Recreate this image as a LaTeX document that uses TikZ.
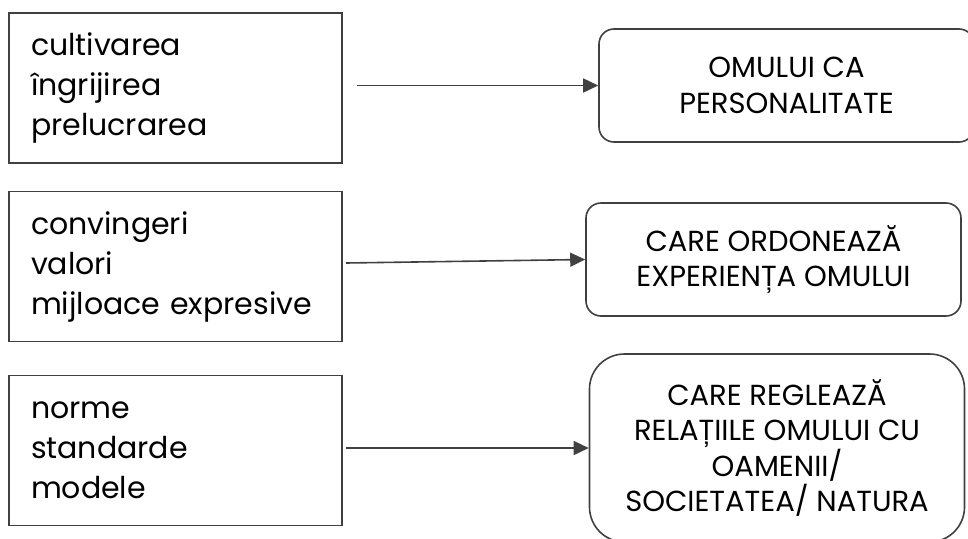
\documentclass[tikz,border=0pt]{standalone}
\usepackage{fontspec}
\setmainfont{Poppins}
\usetikzlibrary{arrows.meta}
\definecolor{edge}{HTML}{404040}
\tikzset{
  leftbox/.style={draw=edge, line width=1.6pt, rectangle, minimum width=333pt, minimum height=150pt,
    text width=289pt, inner xsep=22pt, align=left, font=\fontsize{30}{40}\selectfont},
  rightbox/.style={draw=edge, line width=1.6pt, rectangle, minimum width=375pt, minimum height=113pt,
    align=center, font=\fontsize{29}{35.5}\selectfont},
  conn/.style={draw=edge, line width=1.6pt, -{Triangle[length=15pt,width=14pt]}}
}
\begin{document}
\begin{tikzpicture}[x=1pt,y=-1pt]
\useasboundingbox (0,0) rectangle (968,538);
\node[leftbox] (l1) at (175.5,88) {cultivarea\\îngrijirea\\prelucrarea};
\node[leftbox] (l2) at (175.5,266.5) {convingeri\\valori\\mijloace expresive};
\node[leftbox] (l3) at (175.5,450.5) {norme\\standarde\\modele};
\node[rightbox, rounded corners=15pt] (r1) at (786.5,85.5) {OMULUI CA\\PERSONALITATE};
\node[rightbox, rounded corners=15pt] (r2) at (773.5,259.5) {CARE ORDONEAZĂ\\EXPERIENȚA OMULUI};
\node[rightbox, rounded corners=35pt, minimum height=188pt] (r3) at (777,448) {CARE REGLEAZĂ\\RELAȚIILE OMULUI CU\\OAMENII/\\SOCIETATEA/ NATURA};
\coordinate (s1) at (357,85.5);
\coordinate (s2) at (346,263);
\coordinate (s3) at (346,448);
\draw[conn] (s1) -- (r1.west);
\draw[conn] (s2) -- (r2.west);
\draw[conn] (s3) -- (r3.west);
\end{tikzpicture}
\end{document}
